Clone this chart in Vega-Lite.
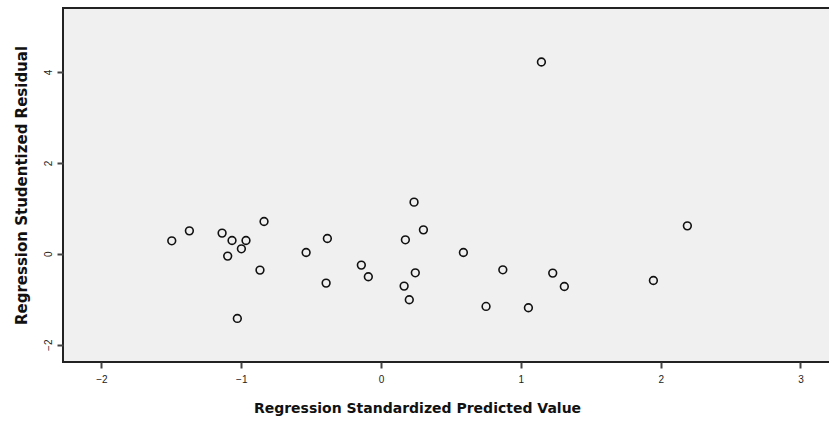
{
  "$schema": "https://vega.github.io/schema/vega-lite/v6.json",
  "autosize": "none",
  "width": 772,
  "height": 354,
  "padding": {"left": 63, "top": 8, "right": 0, "bottom": 59},
  "background": "white",
  "config": {
    "view": {"fill": "#f0f0f0", "stroke": "#222222", "strokeWidth": 2},
    "axis": {"grid": false, "domain": false, "tickColor": "#444444", "tickWidth": 2, "tickSize": 6,
      "labelFont": "Liberation Sans", "labelFontSize": 10, "labelColor": "#222222",
      "titleFont": "DejaVu Sans", "titleFontSize": 14, "titleFontWeight": "bold", "titleColor": "#111111"}
  },
  "data": {"values": [
    {"pred": -1.497, "resid": 0.286},
    {"pred": -1.371, "resid": 0.505},
    {"pred": -1.137, "resid": 0.455},
    {"pred": -1.066, "resid": 0.292},
    {"pred": -0.966, "resid": 0.292},
    {"pred": -0.999, "resid": 0.110},
    {"pred": -1.097, "resid": -0.051},
    {"pred": -0.837, "resid": 0.710},
    {"pred": -0.866, "resid": -0.358},
    {"pred": -1.028, "resid": -1.422},
    {"pred": -0.536, "resid": 0.029},
    {"pred": -0.384, "resid": 0.336},
    {"pred": -0.393, "resid": -0.644},
    {"pred": -0.141, "resid": -0.248},
    {"pred": -0.091, "resid": -0.505},
    {"pred": 0.236, "resid": 1.136},
    {"pred": 0.303, "resid": 0.527},
    {"pred": 0.174, "resid": 0.308},
    {"pred": 0.245, "resid": -0.418},
    {"pred": 0.165, "resid": -0.710},
    {"pred": 0.202, "resid": -1.011},
    {"pred": 0.589, "resid": 0.029},
    {"pred": 0.871, "resid": -0.352},
    {"pred": 1.228, "resid": -0.424},
    {"pred": 1.311, "resid": -0.719},
    {"pred": 0.751, "resid": -1.158},
    {"pred": 1.054, "resid": -1.187},
    {"pred": 1.147, "resid": 4.220},
    {"pred": 2.191, "resid": 0.615},
    {"pred": 1.948, "resid": -0.587}
  ]},
  "mark": {"type": "point", "shape": "circle", "filled": false, "color": "#111111", "strokeWidth": 1.6, "size": 60, "opacity": 1},
  "encoding": {
    "x": {"field": "pred", "type": "quantitative",
      "scale": {"domain": [-2.275, 3.247], "nice": false, "zero": false},
      "axis": {"values": [-2, -1, 0, 1, 2, 3], "title": "Regression Standardized Predicted Value", "titlePadding": 17, "labelPadding": 6, "titleX": 354, "titleAlign": "center", "titleAnchor": null}},
    "y": {"field": "resid", "type": "quantitative",
      "scale": {"domain": [-2.38, 5.407], "nice": false, "zero": false},
      "axis": {"values": [-2, 0, 2, 4], "title": "Regression Studentized Residual", "titleFontSize": 15, "labelAngle": -90, "labelAlign": "center", "labelBaseline": "bottom", "labelPadding": 4, "titlePadding": 14}}
  }
}
